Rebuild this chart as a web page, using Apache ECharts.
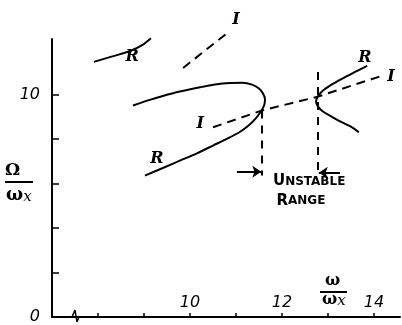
<!DOCTYPE html>
<html>
<head>
<meta charset="utf-8">
<script src="https://cdn.jsdelivr.net/npm/echarts@6/dist/echarts.min.js"></script>
<style>
html,body{margin:0;padding:0;background:#fff;}
#c{width:402px;height:325px;}
</style>
</head>
<body>
<div id="c"></div>
<script>
// ---- data (x = omega/omega_x, y = Omega/omega_x) ----
var xTickValues = [0.8, 0.9, 1.0, 1.1, 1.2, 1.3, 1.4];
var xLabelValues = [1.0, 1.2, 1.4];
var xLabelTexts = ['10', '12', '14'];
var yTickValues = [0.2, 0.4, 0.6, 0.8, 1.0];
var yLabelValues = [0, 1.0];
var yLabelTexts = ['0', '10'];

// short R branch, upper left
var rUpperLeft = [[0.791, 1.147], [0.833, 1.173], [0.870, 1.196], [0.896, 1.222], [0.915, 1.253]];
// short I branch, upper
var iUpper = [[0.985, 1.120], [1.083, 1.280]];
// main R loop (upper branch -> nose -> lower branch)
var rLoop = [[0.876, 0.951], [0.909, 0.974], [0.941, 0.994], [0.978, 1.014], [1.022, 1.033],
             [1.054, 1.045], [1.087, 1.052], [1.113, 1.053], [1.135, 1.045], [1.150, 1.027],
             [1.159, 1.004], [1.163, 0.978], [1.161, 0.951], [1.154, 0.924], [1.143, 0.893],
             [1.128, 0.862], [1.109, 0.833], [1.083, 0.804], [1.050, 0.771], [1.015, 0.736],
             [0.978, 0.703], [0.941, 0.670], [0.902, 0.636]];
// main I branch
var iMain = [[1.050, 0.853], [1.157, 0.929], [1.278, 0.991], [1.424, 1.089]];
// right R branch (opening right)
var rRight = [[1.385, 1.129], [1.359, 1.102], [1.330, 1.071], [1.307, 1.044], [1.289, 1.018],
              [1.278, 0.991], [1.274, 0.969], [1.278, 0.947], [1.289, 0.924], [1.307, 0.902],
              [1.326, 0.880], [1.348, 0.858], [1.367, 0.831]];
// unstable range bounds
var unstableLeft = [[1.157, 0.929], [1.157, 0.636]];
var unstableRight = [[1.278, 1.102], [1.278, 0.640]];
var arrowLeft = [[1.102, 0.653], [1.155, 0.653]];
var arrowRight = [[1.326, 0.649], [1.280, 0.649]];
// axis break squiggle
var axisBreak = [[0.7435, 0.0], [0.750, 0.031], [0.7543, -0.022], [0.7587, 0.0]];
// annotations
var annoText = ['R', 'I', 'I', 'R', 'R', 'I', 'UNSTABLE', 'RANGE'];
var annoX = [0.874, 1.100, 1.022, 0.928, 1.380, 1.437, 1.259, 1.241];
var annoY = [1.169, 1.338, 0.867, 0.711, 1.164, 1.080, 0.609, 0.520];

function pickLabel(vals, texts, v) {
  for (var i = 0; i < vals.length; i++) if (Math.abs(vals[i] - v) < 1e-6) return texts[i];
  return '';
}

var chart = echarts.init(document.getElementById('c'), null, {renderer: 'canvas'});
var solid = {color: '#000', width: 2};
var dashed = {color: '#000', width: 2, type: [9, 6]};
var vdashed = {color: '#000', width: 2, type: [8, 7], opacity: 1};

function lineSeries(data, style, smooth) {
  return {type: 'line', data: data, showSymbol: false, symbol: 'none', smooth: smooth || false,
          lineStyle: style, clip: false, silent: true, animation: false, z: 3};
}

var annoData = annoText.map(function (t, i) { return [annoX[i], annoY[i], t]; });

var option = {
  backgroundColor: '#fff',
  animation: false,
  grid: {left: 52, right: 2, top: 39, bottom: 5, containLabel: false},
  xAxis: {
    type: 'value', min: 0.7, max: 1.4565,
    axisLine: {show: true, lineStyle: {color: '#000', width: 2}},
    axisTick: {show: true, inside: true, length: 4, customValues: xTickValues, lineStyle: {color: '#000', width: 1.5}},
    axisLabel: {show: true, inside: true, margin: 6, customValues: xLabelValues, color: '#000',
                fontFamily: 'DejaVu Sans', fontSize: 16, fontStyle: 'italic',
                formatter: function (v) { return pickLabel(xLabelValues, xLabelTexts, v); }},
    splitLine: {show: false}
  },
  yAxis: {
    type: 'value', min: 0, max: 1.25,
    axisLine: {show: true, lineStyle: {color: '#000', width: 2}},
    axisTick: {show: true, inside: true, length: 7, customValues: yTickValues, lineStyle: {color: '#000', width: 1.5}},
    axisLabel: {show: true, margin: 12, customValues: yLabelValues, color: '#000',
                fontFamily: 'DejaVu Sans', fontSize: 16, fontStyle: 'italic',
                formatter: function (v) { return pickLabel(yLabelValues, yLabelTexts, v); }},
    splitLine: {show: false}
  },
  graphic: [
    {type: 'text', left: 5, top: 162, style: {text: 'Ω', font: 'bold 17px "DejaVu Serif"', fill: '#000'}},
    {type: 'line', shape: {x1: 5, y1: 182, x2: 33, y2: 182}, style: {stroke: '#000', lineWidth: 2}},
    {type: 'text', left: 6, top: 186, style: {text: '{w|ω}{s|x}', fill: '#000',
      rich: {w: {font: 'bold 18px "DejaVu Serif"', fill: '#000'}, s: {font: 'italic 15px "DejaVu Serif"', fill: '#000', padding: [5, 0, 0, 0]}}}},
    {type: 'text', left: 325, top: 273, style: {text: 'ω', font: 'bold 16px "DejaVu Serif"', fill: '#000'}},
    {type: 'line', shape: {x1: 320, y1: 292, x2: 347, y2: 292}, style: {stroke: '#000', lineWidth: 2}},
    {type: 'text', left: 322, top: 292, style: {text: '{w|ω}{s|x}', fill: '#000',
      rich: {w: {font: 'bold 16px "DejaVu Serif"', fill: '#000'}, s: {font: 'italic 15px "DejaVu Serif"', fill: '#000', padding: [3, 0, 0, 0]}}}}
  ],
  series: [
    lineSeries(rUpperLeft, solid, 0.3),
    lineSeries(iUpper, dashed, false),
    lineSeries(rLoop, solid, 0.3),
    lineSeries(iMain, dashed, false),
    lineSeries(rRight, solid, 0.3),
    lineSeries(axisBreak, {color: '#000', width: 1.5}, false),
    {
      type: 'lines', coordinateSystem: 'cartesian2d', silent: true, animation: false, z: 3,
      symbol: ['none', 'none'],
      lineStyle: vdashed,
      data: [{coords: unstableLeft}, {coords: unstableRight}]
    },
    {
      type: 'lines', coordinateSystem: 'cartesian2d', silent: true, animation: false, z: 3,
      symbol: ['none', 'arrow'], symbolSize: 9,
      lineStyle: {color: '#000', width: 2, opacity: 1},
      itemStyle: {color: '#000', opacity: 1},
      data: [{coords: arrowLeft}, {coords: arrowRight}]
    },
    {
      type: 'scatter', data: annoData, symbolSize: 0, clip: false, silent: true, animation: false, z: 4,
      itemStyle: {color: '#000', opacity: 1},
      label: {
        show: true, position: 'inside', color: '#000', textBorderWidth: 0, opacity: 1,
        formatter: function (p) {
          var t = p.value[2];
          if (t === 'UNSTABLE' || t === 'RANGE') return '{b|' + t.charAt(0) + '}{s|' + t.slice(1) + '}';
          return '{h|' + t + '}';
        },
        rich: {
          h: {fontFamily: 'DejaVu Serif', fontStyle: 'italic', fontWeight: 'bold', fontSize: 16, color: '#000', textBorderWidth: 0},
          b: {fontFamily: 'DejaVu Sans', fontWeight: 'bold', fontSize: 15, color: '#000', textBorderWidth: 0},
          s: {fontFamily: 'DejaVu Sans', fontWeight: 'bold', fontSize: 12, color: '#000', textBorderWidth: 0}
        }
      }
    }
  ]
};
chart.setOption(option);
</script>
</body>
</html>
